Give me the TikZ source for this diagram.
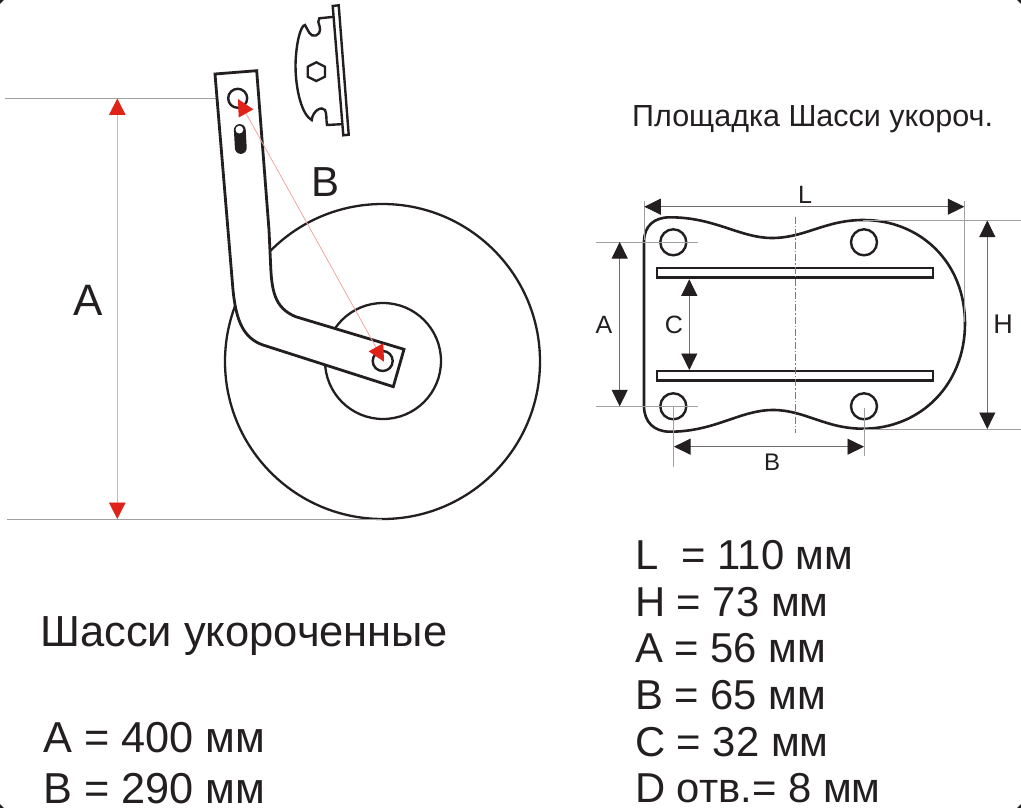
\documentclass[tikz,border=0pt]{standalone}
\usepackage{fontspec}
\setmainfont{Liberation Sans}
\usetikzlibrary{arrows.meta}
\definecolor{ink}{HTML}{231F20}
\definecolor{redm}{HTML}{E02318}
\definecolor{dimg}{HTML}{A0A0A0}
\definecolor{pinkl}{HTML}{F2A6A0}
\tikzset{
 part/.style={draw=ink,line width=2.8pt,line join=miter,fill=white},
 partb/.style={draw=ink,line width=2.4pt,line join=miter,fill=white},
 hole/.style={circle,inner sep=0pt,draw=ink,line width=2.4pt,minimum size=#1},
 disc/.style={circle,inner sep=0pt,draw=ink,line width=2.3pt,fill=white,minimum size=#1},
 ext/.style={draw=dimg,line width=0.9pt},
 dimk/.style={draw=ink!65,line width=0.8pt,{Triangle[length=16.5pt,width=16pt,color=ink]}-{Triangle[length=16.5pt,width=16pt,color=ink]}},
 dimr/.style={draw=pinkl,line width=0.8pt,{Triangle[length=16.5pt,width=16.5pt,color=redm]}-{Triangle[length=16.5pt,width=16.5pt,color=redm]}},
 lab/.style={inner sep=0pt,anchor=base west,text=ink},
 midlab/.style={inner sep=0pt,anchor=base,text=ink}
}
\newcommand{\fsz}[1]{\fontsize{#1}{#1}\selectfont}
\begin{document}
\begin{tikzpicture}[x=1pt,y=-1pt]
\useasboundingbox (0,0) rectangle (1021,808);
\fill[white] (0,0) rectangle (1021,808);
\fill[ink] (0,0) -- (4,0) -- (0,4) -- cycle;
\fill[ink] (1021,0) -- (1017,0) -- (1021,4) -- cycle;
\fill[ink] (0,808) -- (4,808) -- (0,804) -- cycle;
\fill[ink] (1021,808) -- (1017,808) -- (1021,804) -- cycle;
% ---- wheel
\node[disc=315pt] (wheel) at (382.5,361.5) {};
\node[disc=116pt] (hub) at (383,361) {};
% ---- height dimension of chassis
\coordinate (extTa) at (5,98.5);
\coordinate (extTb) at (232,98.5);
\coordinate (extBa) at (7,519.5);
\coordinate (extBb) at (382,519.5);
\draw[ext] (extTa) -- (extTb);
\draw[ext] (extBa) -- (extBb);
\coordinate (aT) at (117.3,98.5);
\coordinate (aB) at (117.3,519);
\draw[dimr] (aT) -- (aB);
% ---- arm
\draw[part] (215,74) -- (256.7,70.7) -- (269,230) -- (270.5,262)
  .. controls (271.5,290) and (274,308) .. (296,316.8)
  -- (404,349.3) -- (393.3,386.7) -- (263,345)
  .. controls (243,338) and (236,320) .. (233,290)
  -- cycle;
\node[hole=19pt] (eyeT) at (237.7,98.3) {};
\node[hole=20pt] (eyeB) at (382.7,361) {};
\draw[ink,line width=11.8pt,line cap=round] (239.8,130) -- (240.8,148);
\fill[white] (239.4,129.6) circle (3.9);
\coordinate (bT) at (238,99);
\coordinate (bB) at (384,361.7);
\draw[dimr] (bT) -- (bB);
% ---- mount, side view
\draw[partb] (335,16.7) -- (319.3,18.3) -- (318.3,22)
  .. controls (320,27) and (322,33) .. (316,35.5)
  .. controls (310,37.5) and (308,30) .. (305,25)
  .. controls (301,25) and (296,42) .. (295.5,65)
  .. controls (295.5,90) and (302,115) .. (311.7,120)
  .. controls (313,110) and (322,106) .. (325,110)
  .. controls (327,114) and (326,120) .. (327,125)
  -- (345,124) -- cycle;
\draw[partb] (332.7,6) -- (338.7,5.3) -- (348.7,134.7) -- (343.3,135.3) -- cycle;
\draw[ink,line width=2.3pt,line join=miter] (316.3,62.3) -- (325,66.7) -- (325,76.7) -- (316.3,81) -- (307.7,76.7) -- (307.7,66.7) -- cycle;
% ---- plate
\draw[partb,line width=2.6pt] (644,242)
  .. controls (644,226) and (654,217.3) .. (670,217.3)
  .. controls (715,217.3) and (740,238) .. (772,238)
  .. controls (805,238) and (825,220) .. (863.3,220)
  .. controls (920,220) and (965,262) .. (965,323.5)
  .. controls (965,385) and (920,428.7) .. (863.3,428.7)
  .. controls (825,428.7) and (805,410) .. (773,410)
  .. controls (740,410) and (715,431.7) .. (670,431.7)
  .. controls (654,431.7) and (644,422) .. (644,406)
  -- cycle;
\node[hole=26pt] (h1) at (673.3,242.3) {};
\node[hole=26pt] (h2) at (864,242.3) {};
\node[hole=26pt] (h3) at (673.3,406.3) {};
\node[hole=26pt] (h4) at (864,406.3) {};
\draw[draw=ink,line width=2.2pt] (657,268) rectangle (933.3,278);
\draw[ink,line width=3.2pt] (657,277.5) -- (933.3,277.5);
\draw[draw=ink,line width=2.2pt] (657,371) rectangle (933.3,380.8);
\draw[ink,line width=3pt] (657,380.3) -- (933.3,380.3);
\coordinate (cTop) at (795,216.7);
\coordinate (cBot) at (795,432.7);
\draw[ink!60,line width=0.7pt,dash pattern=on 7pt off 2pt on 1.5pt off 2pt] (cTop) -- (cBot);
% ---- plate dimensions
\draw[ext] (644.3,201) -- (644.3,240);
\draw[ext] (964.5,201) -- (964.5,322);
\draw[ext] (863,220) -- (1021,220);
\draw[ext] (863,429) -- (1021,429);
\draw[ext] (596,242) -- (698,242);
\draw[ext] (596,406.3) -- (698,406.3);
\draw[ext] (673.5,406.3) -- (673.5,467);
\draw[ext] (864,408) -- (864,456);
\coordinate (Ll) at (644.3,206.7); \coordinate (Lr) at (964.3,206.7);
\coordinate (Ht) at (987.3,220.5); \coordinate (Hb) at (987.3,429);
\coordinate (At) at (619.7,242); \coordinate (Ab) at (619.7,406.3);
\coordinate (Ct) at (689.3,279.3); \coordinate (Cb) at (689.3,370);
\coordinate (Bl) at (674,446.7); \coordinate (Br) at (864,446.7);
\draw[dimk] (Ll) -- (Lr);
\draw[dimk] (Ht) -- (Hb);
\draw[dimk] (At) -- (Ab);
\draw[dimk] (Ct) -- (Cb);
\draw[dimk] (Bl) -- (Br);
% ---- labels on plate
\node[midlab,font=\fsz{25}] (tL) at (805,203) {L};
\node[midlab,font=\fsz{25}] (tA) at (604,333) {A};
\node[midlab,font=\fsz{25}] (tC) at (674,333) {C};
\node[midlab,font=\fsz{24}] (tB) at (772,470.5) {B};
\node[midlab,font=\fsz{27}] (tH) at (1003,333) {H};
% ---- big labels
\node[midlab,font=\fsz{44}] (tAA) at (88,315) {A};
\node[midlab,font=\fsz{42}] (tBB) at (326,196) {B};
\node[lab,font=\fsz{30.5}] (title) at (632,126) {Площадка Шасси укороч.};
\node[lab,font=\fsz{43.5}] (name) at (40,646) {Шасси укороченные};
\node[lab,font=\fsz{43.3}] (v1) at (43,752.7) {A = 400 мм};
\node[lab,font=\fsz{43.3}] (v2) at (43,803.3) {B = 290 мм};
\node[lab,font=\fsz{41.8}] (r1) at (635,569.3) {L\ \ = 110 мм};
\node[lab,font=\fsz{41.8}] (r2) at (635,616) {H = 73 мм};
\node[lab,font=\fsz{41.8}] (r3) at (635,662.7) {A = 56 мм};
\node[lab,font=\fsz{41.8}] (r4) at (635,709.3) {B = 65 мм};
\node[lab,font=\fsz{41.8}] (r5) at (635,756.3) {C = 32 мм};
\node[lab,font=\fsz{41.8}] (r6) at (635,802.7) {D отв.= 8 мм};
\end{tikzpicture}
\end{document}
